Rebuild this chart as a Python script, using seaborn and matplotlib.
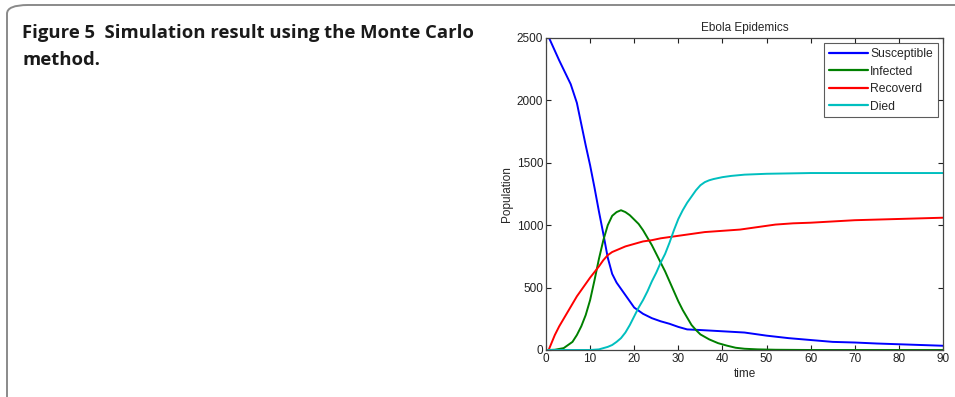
import matplotlib
matplotlib.use("Agg")
import matplotlib.pyplot as plt
import seaborn as sns
import pandas as pd
from matplotlib.patches import FancyBboxPatch

# --- data -------------------------------------------------------------
t_susceptible = [0.7, 3, 5.6, 7, 9, 10, 11, 12, 13, 14, 15, 16, 17, 18, 20, 22, 24, 26,
                 28, 30, 32, 35, 40, 45, 50, 55, 60, 65, 70, 75, 80, 85, 90]
susceptible = [2500, 2320, 2130, 1980, 1640, 1480, 1300, 1110, 930, 740, 610, 540, 490,
               440, 340, 290, 255, 230, 210, 185, 165, 160, 150, 140, 115, 95, 80, 65,
               60, 52, 46, 40, 34]

t_infected = [0.5, 2, 4, 6, 7, 8, 9, 10, 11, 12, 13, 14, 15, 16, 17, 18, 19, 20, 21, 22,
              23, 24, 25, 26, 27, 28, 29, 30, 31, 32, 33, 34, 35, 37, 39, 41, 43, 45, 48,
              52, 60, 90]
infected = [0, 2, 15, 65, 120, 190, 280, 400, 560, 730, 880, 1000, 1075, 1105, 1120, 1105,
            1080, 1045, 1010, 960, 900, 840, 770, 700, 630, 550, 470, 390, 320, 260, 200,
            160, 125, 85, 55, 35, 18, 10, 5, 2, 0, 0]

t_recovered = [0.6, 2, 3, 4, 5, 6, 7, 8, 9, 10, 11, 12, 13, 14, 15, 16, 17, 18, 20, 22,
               24, 26, 28, 30, 33, 36, 40, 44, 48, 52, 56, 60, 65, 70, 75, 80, 85, 90]
recovered = [0, 120, 190, 250, 310, 370, 430, 480, 530, 580, 625, 670, 720, 760, 785, 800,
             815, 830, 850, 870, 880, 895, 905, 915, 930, 945, 955, 965, 985, 1005, 1015,
             1020, 1030, 1040, 1045, 1050, 1055, 1060]

t_died = [0.5, 10, 12, 13, 14, 15, 16, 17, 18, 19, 20, 21, 22, 23, 24, 25, 26, 27, 28, 29,
          30, 31, 32, 33, 34, 35, 36, 37, 38, 40, 42, 45, 50, 55, 60, 90]
died = [0, 0, 5, 15, 25, 40, 65, 95, 140, 200, 270, 340, 400, 470, 550, 620, 700, 770, 860,
        960, 1050, 1120, 1180, 1230, 1280, 1320, 1345, 1360, 1370, 1385, 1395, 1405, 1412,
        1415, 1418, 1418]

series_names = ["Susceptible", "Infected", "Recoverd", "Died"]
series_colors = ["#0000ff", "#008000", "#ff0000", "#00bfbf"]
x_ticks = [0, 10, 20, 30, 40, 50, 60, 70, 80, 90]
y_ticks = [0, 500, 1000, 1500, 2000, 2500]

# --- style ------------------------------------------------------------
sns.set_style("ticks")
plt.rcParams["font.family"] = ["Liberation Sans", "DejaVu Sans"]
plt.rcParams["xtick.direction"] = "in"
plt.rcParams["ytick.direction"] = "in"

W, H = 955, 397
fig = plt.figure(figsize=(W / 100, H / 100), dpi=100)
fig.patch.set_facecolor("white")

# rounded frame around the figure panel (open to the right and bottom)
frame = FancyBboxPatch((7 / W, -20 / H), 1.2, (397 - 5 + 20) / H,
                       boxstyle="round,pad=0,rounding_size=0.022",
                       transform=fig.transFigure, facecolor="none",
                       edgecolor="#8a8a8a", linewidth=1.4, clip_on=False)
fig.patches.append(frame)

# caption
cap_font = dict(fontsize=13.3, fontweight="bold", family=["Open Sans", "DejaVu Sans"],
                color="#1a1a1a", ha="left", va="baseline")
fig.text(22 / W, 1 - 38 / H, "Figure 5  Simulation result using the Monte Carlo", **cap_font)
fig.text(22 / W, 1 - 65 / H, "method.", **cap_font)

# --- chart ------------------------------------------------------------
ax = fig.add_axes([546 / W, (397 - 350) / H, (943 - 546) / W, (350 - 38) / H])

series = [(t_susceptible, susceptible), (t_infected, infected),
          (t_recovered, recovered), (t_died, died)]
for (tt, vals), name, col in zip(series, series_names, series_colors):
    df = pd.DataFrame({"time": tt, "Population": vals})
    sns.lineplot(data=df, x="time", y="Population", ax=ax, color=col,
                 linewidth=1.4, label=name, sort=False, estimator=None)

ax.set_xlim(0, 90)
ax.set_ylim(0, 2500)
ax.set_xticks(x_ticks)
ax.set_yticks(y_ticks)
ax.tick_params(axis="both", which="both", direction="in", length=3.5, width=0.8,
               top=True, right=True, labelsize=8.5, colors="#222222", pad=2)
for sp in ax.spines.values():
    sp.set_visible(True)
    sp.set_color("#444444")
    sp.set_linewidth(0.9)

ax.set_xlabel("time", fontsize=8.5, labelpad=2)
ax.set_ylabel("Population", fontsize=8.5, labelpad=3)
ax.set_title("Ebola Epidemics", fontsize=8.5, pad=5)

leg = ax.legend(loc="upper right", fontsize=8.7, frameon=True, fancybox=False,
                edgecolor="#333333", handlelength=3.2, handletextpad=0.2,
                labelspacing=0.45, borderpad=0.4, borderaxespad=0.45)
leg.get_frame().set_linewidth(0.8)
for h in leg.get_lines():
    h.set_linewidth(1.6)

fig.savefig("out.png", dpi=100, facecolor="white")
